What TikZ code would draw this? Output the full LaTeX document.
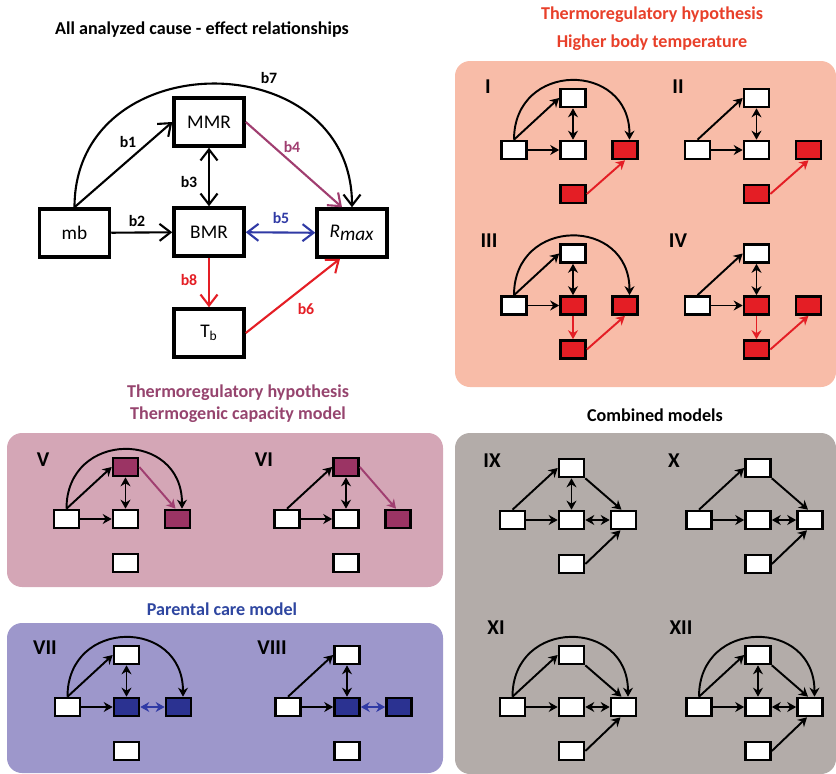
\documentclass[tikz,border=0pt]{standalone}
\usepackage{fontspec}
\setmainfont{Carlito}
\usetikzlibrary{arrows.meta, positioning}

\definecolor{hotred}{RGB}{228,30,37}
\definecolor{plum}{RGB}{155,52,100}
\definecolor{navy}{RGB}{43,50,145}
\definecolor{linkplum}{RGB}{160,62,112}
\definecolor{linkblue}{RGB}{48,58,165}
\definecolor{titlered}{RGB}{232,64,42}
\definecolor{titleplum}{RGB}{150,68,110}
\definecolor{titleblue}{RGB}{46,70,160}
\definecolor{salmon}{RGB}{248,188,168}
\definecolor{pinkbg}{RGB}{212,166,182}
\definecolor{lavender}{RGB}{157,151,203}
\definecolor{greybg}{RGB}{179,172,169}

% five small boxes of one model: prefix, origin, fills of m, b, r, t
\newcommand{\fivebox}[6]{%
  \begin{scope}[shift={#2}]
    \node[mini] (#1a) at (0,0) {};
    \node[mini, fill=#3] (#1m) at (59,-52) {};
    \node[mini, fill=#4] (#1b) at (59,0) {};
    \node[mini, fill=#5] (#1r) at (111,0) {};
    \node[mini, fill=#6] (#1t) at (59,44) {};
  \end{scope}
}

\begin{document}
\begin{tikzpicture}[
  x=0.02cm, y=-0.02cm,
  box/.style={rectangle, draw=black, line width=2pt, fill=white, minimum width=1.4cm, minimum height=0.96cm, font=\fontsize{11}{13}\selectfont},
  mini/.style={rectangle, draw=black, line width=1.5pt, fill=white, minimum width=0.5cm, minimum height=0.36cm, inner sep=0pt},
  arrow/.style={-{Straight Barb[length=2.2mm,width=3.4mm]}, line width=1.2pt},
  dblarrow/.style={{Straight Barb[length=2.2mm,width=3.4mm]}-{Straight Barb[length=2.2mm,width=3.4mm]}, line width=1.2pt},
  minarrow/.style={-{Stealth[length=1.8mm,width=2mm]}, line width=1.1pt},
  mindbl/.style={{Stealth[length=1.8mm,width=2mm]}-{Stealth[length=1.8mm,width=2mm]}, line width=1.1pt},
  lbl/.style={font=\bfseries\fontsize{9}{11}\selectfont},
  title/.style={font=\bfseries\fontsize{10.3}{12}\selectfont},
  tag/.style={font=\bfseries\fontsize{12}{14}\selectfont},
  panel/.style={rounded corners=0.3cm, draw=none},
]
\useasboundingbox (0,0) rectangle (836,774);

% Backgrounds
\fill[panel, salmon] (455,61) rectangle (836,387);
\fill[panel, pinkbg] (7,433) rectangle (443,587);
\fill[panel, lavender] (7,623) rectangle (443,773);
\fill[panel, greybg] (455,433) rectangle (836,774);

% Titles
\node[title] (ttall) at (202,30) {All analyzed cause - effect relationships};
\node[title, text=titlered] (ttred) at (652,15) {Thermoregulatory hypothesis};
\node[title, text=titlered] (ttred2) at (652,43) {Higher body temperature};
\node[title, text=titleplum] (ttplum) at (238,393) {Thermoregulatory hypothesis};
\node[title, text=titleplum] (ttplum2) at (238,415) {Thermogenic capacity model};
\node[title, text=titleblue] (ttblue) at (222,609) {Parental care model};
\node[title] (ttcomb) at (655,415) {Combined models};

% Full model
\node[box] (mb) at (74.5,233) {mb};
\node[box] (mmr) at (209,122) {MMR};
\node[box] (bmr) at (209,232) {BMR};
\node[box] (rmax) at (352,233) {$\textit{R}_{\textit{max}}$};
\node[box] (tb) at (209,333) {T$_{\mathrm{b}}$};

\draw[arrow] (mb.north) -- (mmr.west);
\draw[arrow] (mb.north) to[out=90, in=90, looseness=1.52] (rmax.north);
\draw[arrow] (mb) -- (bmr);
\draw[dblarrow] (mmr) -- (bmr);
\draw[arrow, linkplum] (mmr.east) -- ([xshift=-0.2cm]rmax.north);
\draw[dblarrow, linkblue] (bmr) -- (rmax);
\draw[arrow, hotred] (bmr) -- (tb);
\draw[arrow, hotred] (tb.east) -- ([xshift=-0.24cm]rmax.south);

\node[lbl] (lb1) at (128,142) {b1};
\node[lbl] (lb2) at (137,221) {b2};
\node[lbl] (lb3) at (189,182) {b3};
\node[lbl, text=linkplum] (lb4) at (292,147) {b4};
\node[lbl, text=linkblue] (lb5) at (281,218) {b5};
\node[lbl, text=hotred] (lb6) at (306,309) {b6};
\node[lbl] (lb7) at (269,78) {b7};
\node[lbl, text=hotred] (lb8) at (189,280) {b8};

% Small models
\fivebox{p1}{(514,150)}{white}{white}{hotred}{hotred}
\fivebox{p2}{(697.5,150)}{white}{white}{hotred}{hotred}
\fivebox{p3}{(514,305.5)}{white}{hotred}{hotred}{hotred}
\fivebox{p4}{(697.5,305.5)}{white}{hotred}{hotred}{hotred}
\fivebox{p5}{(66.5,519)}{plum}{white}{plum}{white}
\fivebox{p6}{(287,519)}{plum}{white}{plum}{white}
\fivebox{p7}{(67.5,707)}{white}{navy}{navy}{white}
\fivebox{p8}{(288,707)}{white}{navy}{navy}{white}
\fivebox{p9}{(512.5,520)}{white}{white}{white}{white}
\fivebox{p10}{(699,520)}{white}{white}{white}{white}
\fivebox{p11}{(512.5,707)}{white}{white}{white}{white}
\fivebox{p12}{(699,707)}{white}{white}{white}{white}

\node[tag] (tg1) at (488,87) {I};
\node[tag] (tg2) at (678,87) {II};
\node[tag] (tg3) at (489,241) {III};
\node[tag] (tg4) at (678,241) {IV};
\node[tag] (tg5) at (43,460) {V};
\node[tag] (tg6) at (264,460) {VI};
\node[tag] (tg7) at (45,648) {VII};
\node[tag] (tg8) at (272,648) {VIII};
\node[tag] (tg9) at (492,461) {IX};
\node[tag] (tg10) at (674,461) {X};
\node[tag] (tg11) at (496,628) {XI};
\node[tag] (tg12) at (681,628) {XII};

% mb to MMR and BMR in every model
\foreach \p in {p1,p2,p3,p4,p5,p6,p7,p8,p9,p10,p11,p12} {
  \draw[minarrow] (\p a.north) -- (\p m.west);
  \draw[minarrow] (\p a) -- (\p b);
}
% MMR - BMR
\foreach \p in {p1,p2,p3,p4,p5,p6,p7,p8,p9,p12}
  \draw[mindbl] (\p m) -- (\p b);
% mb to Rmax
\foreach \p in {p1,p3,p5,p7,p11,p12}
  \draw[minarrow] (\p a.north) to[out=90, in=90, looseness=1.75] ([xshift=0.09cm]\p r.north);

% Higher body temperature
\foreach \p in {p1,p2,p3,p4}
  \draw[minarrow, hotred] (\p t.east) -- (\p r.south);
\draw[minarrow, hotred] (p3b) -- (p3t);
\draw[minarrow, hotred] (p4b) -- (p4t);

% Thermogenic capacity
\draw[minarrow, linkplum] (p5m.east) -- ([xshift=-0.04cm]p5r.north);
\draw[minarrow, linkplum] (p6m.east) -- ([xshift=-0.04cm]p6r.north);

% Parental care
\draw[mindbl, linkblue] (p7b) -- (p7r);
\draw[mindbl, linkblue] (p8b) -- (p8r);

% Combined
\foreach \p in {p9,p10,p11,p12} {
  \draw[minarrow] (\p m.south east) -- ([xshift=-0.04cm]\p r.north);
  \draw[mindbl] (\p b) -- (\p r);
  \draw[minarrow] (\p t.east) -- ([xshift=-0.06cm]\p r.south);
}

\end{tikzpicture}
\end{document}
